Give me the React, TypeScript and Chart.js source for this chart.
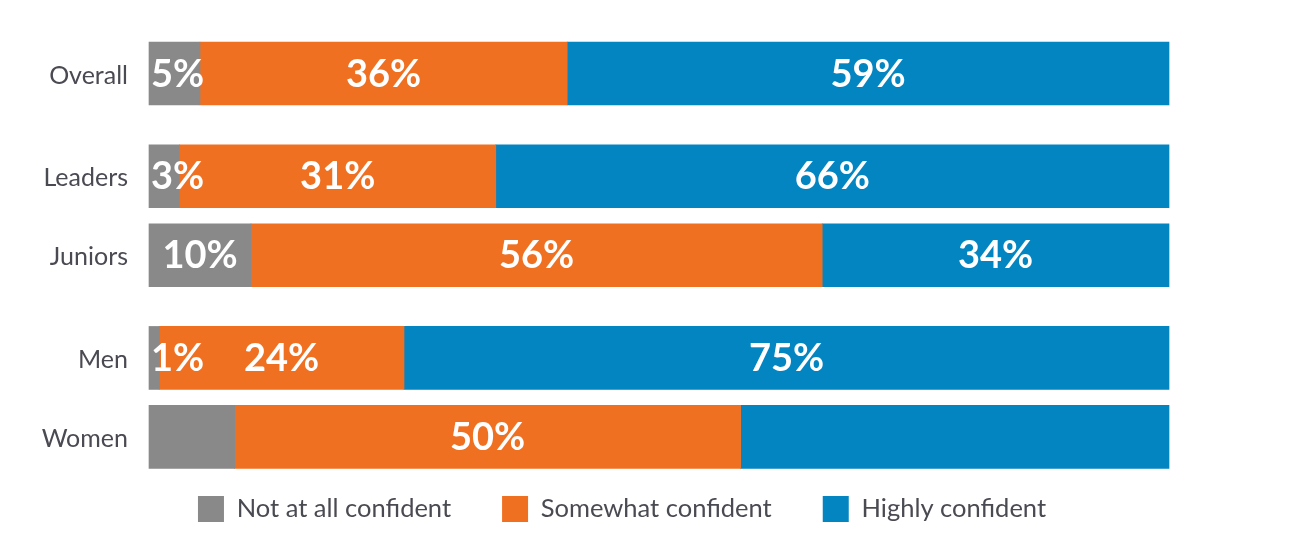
import React, { useEffect, useRef } from "react";
import { Chart, registerables } from "chart.js";

Chart.register(...registerables);

const categories = ["Overall", "Leaders", "Juniors", "Men", "Women"];
const positions = [0, 1.3, 2.3, 3.6, 4.6];
const seriesNames = ["Not at all confident", "Somewhat confident", "Highly confident"];
const notConfident = [5, 3, 10, 1, 8.4];
const somewhatConfident = [36, 31, 56, 24, 49.6];
const highlyConfident = [59, 66, 34, 75, 42];
const notLabels = ["5%", "3%", "10%", "1%", ""];
const somewhatLabels = ["36%", "31%", "56%", "24%", "50%"];
const highlyLabels = ["59%", "66%", "34%", "75%", ""];
const colors = ["#898989", "#F07022", "#0385C2"];

const FONT = "Lato, 'Open Sans', sans-serif";
const TEXT = "#4a4a52";

const labelPlugin = {
  id: "segLabels",
  afterDatasetsDraw(chart: any) {
    const ctx = chart.ctx;
    const allLabels = [notLabels, somewhatLabels, highlyLabels];
    ctx.save();
    ctx.font = `bold 38px ${FONT}`;
    ctx.fillStyle = "#ffffff";
    ctx.textBaseline = "middle";
    ctx.textAlign = "center";
    chart.data.datasets.forEach((ds: any, di: number) => {
      const meta = chart.getDatasetMeta(di);
      meta.data.forEach((bar: any, i: number) => {
        const txt = allLabels[di][i];
        if (!txt) return;
        const left = Math.min(bar.base, bar.x);
        const right = Math.max(bar.base, bar.x);
        const w = ctx.measureText(txt).width;
        let cx = (left + right) / 2;
        cx = Math.max(cx, left + 2 + w / 2);
        ctx.fillText(txt, cx, bar.y + 1);
      });
    });
    // category labels
    const ys = chart.scales.y;
    ctx.font = `25px ${FONT}`;
    ctx.fillStyle = TEXT;
    ctx.textAlign = "right";
    categories.forEach((c, i) => {
      ctx.fillText(c, chart.chartArea.left - 21, ys.getPixelForValue(positions[i]) + 2);
    });
    ctx.restore();
  },
};

export default function App() {
  const ref = useRef<HTMLCanvasElement>(null);
  useEffect(() => {
    if (!ref.current) return;
    const mk = (vals: number[]) => vals.map((v, i) => ({ x: v, y: positions[i] }));
    const chart = new Chart(ref.current, {
      type: "bar",
      data: {
        datasets: [
          { label: seriesNames[0], data: mk(notConfident), backgroundColor: colors[0], clip: false },
          { label: seriesNames[1], data: mk(somewhatConfident), backgroundColor: colors[1], clip: false },
          { label: seriesNames[2], data: mk(highlyConfident), backgroundColor: colors[2], clip: false },
        ] as any,
      },
      options: {
        indexAxis: "y",
        responsive: false,
        animation: false,
        datasets: { bar: { barThickness: 63, borderWidth: 0 } } as any,
        layout: { padding: { top: 34, left: 67, right: 133, bottom: 18 } },
        scales: {
          x: {
            type: "linear",
            stacked: true,
            min: 0,
            max: 100,
            display: false,
          },
          y: {
            type: "linear",
            stacked: true,
            reverse: true,
            offset: false,
            min: -0.399,
            max: 4.702,
            grid: { display: false, drawTicks: false },
            border: { display: false },
            ticks: { display: false },
            afterFit: (scale: any) => {
              scale.width = 74;
            },
          },
        },
        plugins: {
          legend: {
            position: "bottom",
            labels: {
              boxWidth: 26,
              boxHeight: 26,
              padding: 51,
              color: TEXT,
              font: { family: FONT, size: 25.5 },
            },
          },
          tooltip: { enabled: false },
        },
      },
      plugins: [labelPlugin],
    });
    return () => chart.destroy();
  }, []);
  return (
    <div style={{ width: 1294, height: 542 }}>
      <canvas ref={ref} width={1294} height={542} />
    </div>
  );
}
